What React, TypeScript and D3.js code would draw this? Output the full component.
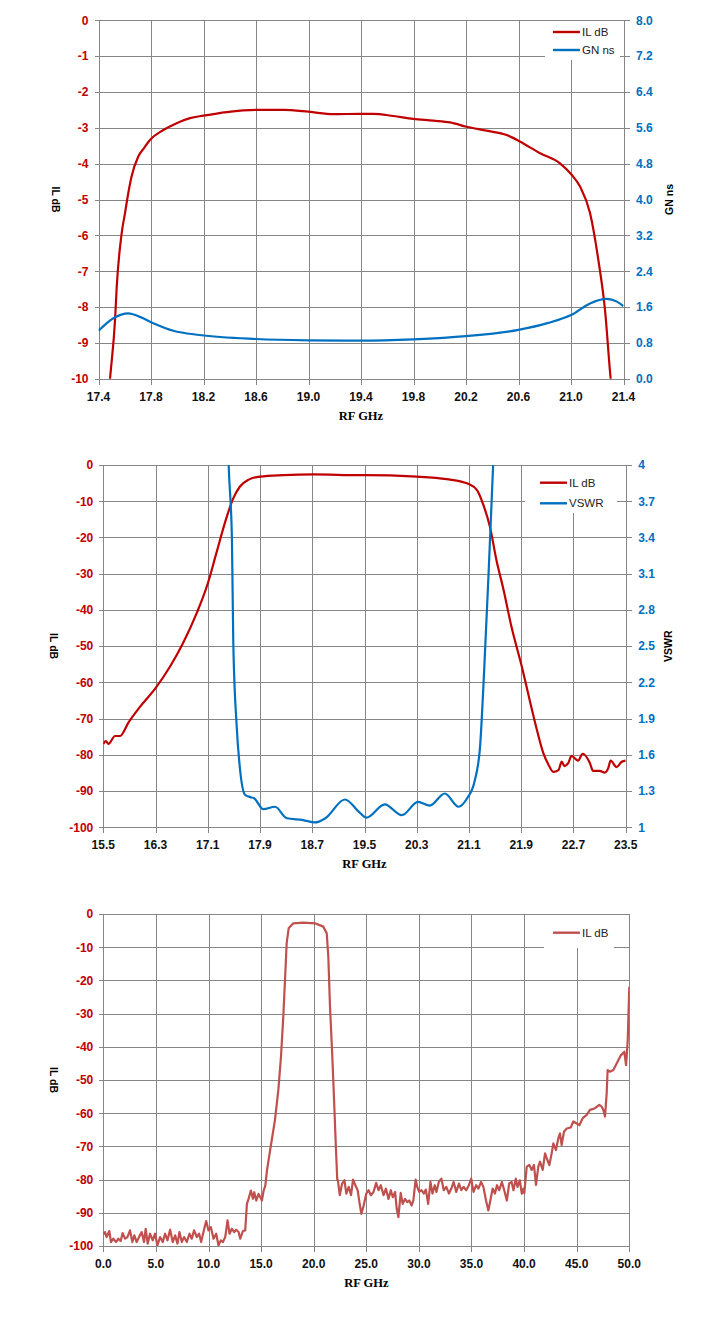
import * as d3 from 'd3';

const IL_RED = '#C00000';
const GN_BLUE = '#0070C0';
const WIDE_RED = '#C0504D';
const GRID = '#868686';

// ---- chart 1: passband detail, IL dB + GN ns ----
const c1IlFreq = [17.47, 17.488, 17.526, 17.539, 17.577, 17.602, 17.627, 17.652, 17.703, 17.75, 17.792, 17.894, 17.983, 18.097, 18.2, 18.377, 18.6, 18.81, 19.0, 19.19, 19.39, 19.494, 19.646, 19.798, 19.95, 20.078, 20.205, 20.357, 20.51, 20.61, 20.764, 20.916, 21.005, 21.069, 21.145, 21.208, 21.259, 21.302, 21.31];
const c1Il = [-10.8, -10.0, -8.36, -7.43, -5.93, -5.38, -4.82, -4.36, -3.8, -3.55, -3.34, -3.06, -2.89, -2.73, -2.66, -2.56, -2.5, -2.5, -2.55, -2.62, -2.61, -2.61, -2.67, -2.75, -2.8, -2.85, -2.97, -3.08, -3.2, -3.38, -3.71, -3.99, -4.31, -4.64, -5.38, -6.68, -8.08, -10.0, -10.3];
const c1GnFreq = [17.4, 17.513, 17.627, 17.716, 17.818, 17.97, 18.17, 18.6, 19.0, 19.39, 19.8, 20.2, 20.6, 20.82, 21.0, 21.145, 21.27, 21.35, 21.4];
const c1Gn = [1.07, 1.35, 1.46, 1.38, 1.24, 1.07, 0.975, 0.886, 0.857, 0.85, 0.88, 0.95, 1.09, 1.24, 1.42, 1.68, 1.78, 1.72, 1.62];
const c1XTicks = [17.4, 17.8, 18.2, 18.6, 19.0, 19.4, 19.8, 20.2, 20.6, 21.0, 21.4];
const c1YTicks = [0, -1, -2, -3, -4, -5, -6, -7, -8, -9, -10];
const c1Y2Ticks = [0, 0.8, 1.6, 2.4, 3.2, 4.0, 4.8, 5.6, 6.4, 7.2, 8.0];

// ---- chart 2: skirts, IL dB + VSWR ----
const c2IlFreq = [15.5, 15.54, 15.577, 15.68, 15.757, 15.885, 16.064, 16.3, 16.52, 16.72, 16.93, 17.1, 17.23, 17.36, 17.49, 17.59, 17.72, 17.9, 18.26, 18.72, 19.43, 19.49, 20.3, 20.76, 21.09, 21.22, 21.32, 21.42, 21.52, 21.63, 21.75, 21.91, 22.03, 22.14, 22.24, 22.32, 22.39, 22.47, 22.52, 22.56, 22.62, 22.67, 22.77, 22.84, 22.95, 23.0, 23.1, 23.18, 23.23, 23.27, 23.36, 23.44, 23.5];
const c2Il = [-77.0, -76.2, -77.0, -74.8, -74.8, -71.1, -66.7, -61.6, -55.7, -49.2, -40.9, -32.7, -24.4, -16.1, -9.2, -6.0, -4.1, -3.2, -2.8, -2.6, -2.8, -2.8, -3.2, -3.9, -5.2, -6.9, -11.0, -17.0, -26.2, -34.5, -44.6, -55.7, -64.9, -73.1, -79.6, -82.8, -84.7, -84.2, -81.9, -83.1, -82.3, -80.3, -81.6, -79.7, -82.2, -84.4, -84.4, -84.9, -83.8, -81.6, -83.4, -81.9, -81.6];
const c2VswrFreq = [17.39, 17.42, 17.47, 17.49, 17.54, 17.59, 17.67, 17.75, 17.81, 17.95, 18.13, 18.31, 18.56, 18.74, 18.9, 19.2, 19.43, 19.53, 19.81, 20.07, 20.32, 20.5, 20.73, 20.94, 21.06, 21.19, 21.27, 21.33, 21.4, 21.47, 21.5];
const c2Vswr = [4.6, 4.0, 3.38, 2.55, 1.86, 1.5, 1.27, 1.25, 1.24, 1.15, 1.17, 1.075, 1.06, 1.04, 1.075, 1.23, 1.12, 1.08, 1.19, 1.1, 1.21, 1.18, 1.28, 1.17, 1.23, 1.39, 1.67, 2.27, 3.1, 4.0, 4.4];
const c2XTicks = [15.5, 16.3, 17.1, 17.9, 18.7, 19.5, 20.3, 21.1, 21.9, 22.7, 23.5];
const c2YTicks = [0, -10, -20, -30, -40, -50, -60, -70, -80, -90, -100];
const c2Y2Ticks = [1, 1.3, 1.6, 1.9, 2.2, 2.5, 2.8, 3.1, 3.4, 3.7, 4];

// ---- chart 3: wideband IL dB ----
const c3Freq = [0.0, 0.16, 0.32, 0.57, 0.73, 0.95, 1.21, 1.43, 1.65, 1.84, 2.06, 2.29, 2.54, 2.76, 2.95, 3.17, 3.43, 3.65, 3.87, 4.03, 4.22, 4.44, 4.7, 4.92, 5.14, 5.4, 5.65, 5.87, 6.1, 6.35, 6.6, 6.83, 7.05, 7.24, 7.46, 7.68, 7.94, 8.19, 8.41, 8.63, 8.89, 9.11, 9.3, 9.52, 9.78, 10.0, 10.22, 10.48, 10.73, 10.95, 11.17, 11.37, 11.59, 11.81, 12.0, 12.22, 12.44, 12.63, 12.86, 13.02, 13.27, 13.49, 13.65, 13.81, 14.03, 14.22, 14.35, 14.54, 14.76, 14.92, 15.08, 15.24, 15.4, 15.56, 15.91, 16.32, 16.64, 16.89, 17.11, 17.3, 17.43, 17.62, 18.06, 19.01, 20.12, 20.91, 21.24, 21.39, 21.55, 21.77, 21.96, 22.12, 22.24, 22.3, 22.48, 22.7, 22.92, 23.1, 23.33, 23.55, 23.74, 23.96, 24.18, 24.37, 24.53, 24.75, 25.0, 25.22, 25.44, 25.69, 25.94, 26.16, 26.38, 26.64, 26.86, 27.11, 27.33, 27.52, 27.74, 27.89, 28.05, 28.27, 28.46, 28.68, 28.9, 29.09, 29.31, 29.47, 29.69, 29.84, 30.03, 30.25, 30.47, 30.66, 30.88, 31.1, 31.29, 31.51, 31.67, 31.89, 32.14, 32.36, 32.61, 32.86, 33.08, 33.3, 33.55, 33.81, 34.03, 34.25, 34.5, 34.75, 34.97, 35.19, 35.44, 35.66, 35.91, 36.13, 36.38, 36.6, 36.79, 37.01, 37.23, 37.42, 37.64, 37.89, 38.11, 38.36, 38.58, 38.81, 38.99, 39.21, 39.37, 39.59, 39.78, 39.94, 40.02, 40.25, 40.5, 40.72, 40.94, 41.13, 41.35, 41.51, 41.77, 41.99, 42.21, 42.4, 42.62, 42.78, 43.03, 43.25, 43.41, 43.57, 43.79, 44.05, 44.43, 44.68, 45.0, 45.25, 45.57, 45.95, 46.26, 46.74, 47.15, 47.37, 47.53, 47.69, 47.85, 47.94, 48.17, 48.48, 48.8, 49.21, 49.53, 49.69, 49.75, 49.85, 50.0];
const c3Il = [-96.5, -95.8, -97.3, -95.5, -98.8, -97.8, -98.8, -97.8, -98.5, -96.1, -97.8, -97.3, -95.3, -98.8, -96.8, -98.8, -97.1, -95.8, -98.8, -94.8, -99.3, -96.3, -98.3, -96.3, -99.8, -97.3, -98.8, -96.3, -98.3, -95.1, -98.8, -96.8, -99.3, -95.8, -98.8, -97.3, -98.8, -96.3, -97.8, -95.3, -97.3, -96.3, -98.8, -95.8, -92.5, -95.3, -94.3, -97.8, -96.3, -99.8, -98.3, -98.8, -97.3, -92.3, -96.3, -94.8, -95.8, -95.1, -95.8, -97.8, -95.5, -95.3, -87.3, -85.8, -83.3, -85.8, -83.8, -86.3, -84.3, -85.3, -86.3, -83.3, -81.8, -77.2, -70.1, -62.0, -53.0, -43.0, -30.9, -17.9, -8.8, -4.3, -2.8, -2.6, -2.8, -3.8, -5.8, -12.9, -27.9, -43.0, -58.0, -71.1, -80.1, -80.2, -84.7, -81.2, -80.2, -84.2, -82.2, -84.7, -80.0, -81.7, -83.2, -87.3, -90.3, -87.8, -84.2, -83.2, -84.7, -83.7, -81.0, -83.2, -81.7, -84.7, -82.7, -85.8, -83.2, -85.3, -83.7, -88.8, -91.3, -84.0, -87.3, -85.8, -86.8, -86.3, -87.8, -86.3, -80.0, -82.2, -83.7, -83.2, -84.2, -83.0, -87.3, -80.7, -84.2, -81.7, -83.7, -80.7, -79.7, -83.2, -82.2, -84.2, -82.7, -80.7, -83.7, -81.2, -83.2, -82.2, -83.2, -81.7, -79.7, -83.7, -81.7, -82.7, -80.7, -82.2, -86.3, -89.3, -86.3, -82.7, -84.2, -81.7, -83.2, -80.7, -83.2, -86.3, -81.2, -80.7, -83.2, -79.7, -82.2, -80.2, -84.2, -82.7, -84.1, -76.1, -75.6, -77.1, -75.6, -81.6, -76.1, -74.6, -77.1, -72.1, -74.1, -75.6, -72.1, -69.1, -71.1, -67.6, -66.1, -69.6, -65.6, -64.6, -64.3, -62.5, -63.1, -63.6, -61.5, -60.5, -59.0, -58.5, -57.5, -58.0, -59.0, -61.0, -54.0, -47.0, -47.5, -47.0, -45.0, -42.5, -41.5, -45.5, -43.0, -38.0, -21.9];
const c3XTicks = [0, 5, 10, 15, 20, 25, 30, 35, 40, 45, 50];
const c3YTicks = [0, -10, -20, -30, -40, -50, -60, -70, -80, -90, -100];

interface Series {
  x: number[];
  y: number[];
  color: string;
  right?: boolean;
  smooth?: boolean;
  label: string;
}

interface ChartProps {
  id: string;
  left: number;
  right: number;
  top: number;
  bottom: number;
  xDomain: [number, number];
  xTicks: number[];
  xFmt: (v: number) => string;
  yDomain: [number, number];
  yTicks: number[];
  y2Domain?: [number, number];
  y2Ticks?: number[];
  y2Fmt?: (v: number) => string;
  y2Title?: string;
  y2TitleX?: number;
  yTitleX: number;
  series: Series[];
  legend: { x: number; y: number; w: number; h: number; sx1: number; sx2: number; rows: number[] };
}

const tickFont = 'Tahoma, "Liberation Sans", Arial, sans-serif';

function Chart(p: ChartProps) {
  const x = d3.scaleLinear().domain(p.xDomain).range([p.left, p.right]);
  const y = d3.scaleLinear().domain(p.yDomain).range([p.bottom, p.top]);
  const y2 = p.y2Domain ? d3.scaleLinear().domain(p.y2Domain).range([p.bottom, p.top]) : null;
  const midY = (p.top + p.bottom) / 2;
  const midX = (p.left + p.right) / 2;
  const snap = (v: number) => Math.round(v) + 0.5;

  return (
    <g>
      <defs>
        <clipPath id={p.id}>
          <rect x={p.left} y={p.top} width={p.right - p.left} height={p.bottom - p.top} />
        </clipPath>
      </defs>
      {/* grid */}
      <g stroke={GRID} strokeWidth={1} shapeRendering="crispEdges">
        {p.xTicks.map((t, i) => (
          <line key={'vx' + i} x1={snap(x(t))} x2={snap(x(t))} y1={snap(p.top)} y2={snap(p.bottom) + 5} />
        ))}
        {p.yTicks.map((t, i) => (
          <line key={'hy' + i} x1={snap(p.left) - 5} x2={snap(p.right) + (y2 ? 5 : 0)} y1={snap(y(t))} y2={snap(y(t))} />
        ))}
      </g>
      {/* series */}
      <g clipPath={`url(#${p.id})`}>
        {p.series.map((s, i) => {
          const ys = s.right && y2 ? y2 : y;
          const line = d3.line<number>()
            .x((_, k) => x(s.x[k]))
            .y(v => ys(v))
            .curve(s.smooth ? d3.curveMonotoneX : d3.curveLinear);
          return <path key={i} d={line(s.y) || ''} fill="none" stroke={s.color} strokeWidth={2.2} strokeLinejoin="round" />;
        })}
      </g>
      {/* legend */}
      <rect x={p.legend.x} y={p.legend.y} width={p.legend.w} height={p.legend.h} fill="#fff" />
      {p.series.map((s, i) => (
        <g key={'lg' + i}>
          <line x1={p.legend.sx1} x2={p.legend.sx2} y1={p.legend.rows[i]} y2={p.legend.rows[i]} stroke={s.color} strokeWidth={2.4} />
          <text x={p.legend.sx2 + 2} y={p.legend.rows[i]} dy="0.36em" fontFamily={tickFont} fontSize={11.5} fill="#222">{s.label}</text>
        </g>
      ))}
      {/* x tick labels */}
      {p.xTicks.map((t, i) => (
        <text key={'xl' + i} x={x(t)} y={p.bottom + 22} textAnchor="middle" fontFamily={tickFont} fontWeight="bold" fontSize={12} fill="#111">
          {p.xFmt(t)}
        </text>
      ))}
      {/* left tick labels */}
      {p.yTicks.map((t, i) => (
        <text key={'yl' + i} x={p.left - 10} y={y(t)} dy="0.36em" textAnchor="end" fontFamily={tickFont} fontWeight="bold" fontSize={12} fill={IL_RED}>
          {String(t)}
        </text>
      ))}
      {/* right tick labels */}
      {y2 && p.y2Ticks && p.y2Ticks.map((t, i) => (
        <text key={'y2l' + i} x={p.right + 12.5} y={y2(t)} dy="0.36em" textAnchor="start" fontFamily={tickFont} fontWeight="bold" fontSize={12} fill={GN_BLUE}>
          {p.y2Fmt ? p.y2Fmt(t) : String(t)}
        </text>
      ))}
      {/* axis titles */}
      <text x={midX} y={p.bottom + 41} textAnchor="middle" fontFamily='"Liberation Serif", "Times New Roman", serif' fontWeight="bold" fontSize={12.5} fill="#000">
        RF GHz
      </text>
      <text transform={`translate(${p.yTitleX},${midY}) rotate(90)`} textAnchor="middle" dy="0.36em" fontFamily={tickFont} fontWeight="bold" fontSize={10.5} fill="#000">
        IL dB
      </text>
      {p.y2Title && (
        <text transform={`translate(${p.y2TitleX},${midY}) rotate(-90)`} textAnchor="middle" dy="0.36em" fontFamily={tickFont} fontWeight="bold" fontSize={10.5} fill="#000">
          {p.y2Title}
        </text>
      )}
    </g>
  );
}

const f1 = (v: number) => v.toFixed(1);

export default function App() {
  return (
    <div style={{ position: 'absolute', left: 0, top: 0, background: '#fff' }}>
      <svg width={718} height={1332} style={{ display: 'block' }}>
        <rect width={718} height={1332} fill="#fff" />
        <Chart
          id="clip1"
          left={98.5} right={623.5} top={20.3} bottom={378.7}
          xDomain={[17.4, 21.4]} xTicks={c1XTicks} xFmt={f1}
          yDomain={[-10, 0]} yTicks={c1YTicks}
          y2Domain={[0, 8]} y2Ticks={c1Y2Ticks} y2Fmt={f1}
          y2Title="GN ns" y2TitleX={669} yTitleX={56}
          series={[
            { x: c1IlFreq, y: c1Il, color: IL_RED, smooth: true, label: 'IL dB' },
            { x: c1GnFreq, y: c1Gn, color: GN_BLUE, right: true, smooth: true, label: 'GN ns' },
          ]}
          legend={{ x: 545, y: 21, w: 75, h: 39, sx1: 553, sx2: 580, rows: [32, 50] }}
        />
        <Chart
          id="clip2"
          left={103.3} right={625.7} top={465} bottom={827.3}
          xDomain={[15.5, 23.5]} xTicks={c2XTicks} xFmt={f1}
          yDomain={[-100, 0]} yTicks={c2YTicks}
          y2Domain={[1, 4]} y2Ticks={c2Y2Ticks}
          y2Title="VSWR" y2TitleX={668.5} yTitleX={54}
          series={[
            { x: c2IlFreq, y: c2Il, color: IL_RED, smooth: true, label: 'IL dB' },
            { x: c2VswrFreq, y: c2Vswr, color: GN_BLUE, right: true, smooth: true, label: 'VSWR' },
          ]}
          legend={{ x: 525, y: 466, w: 92, h: 47, sx1: 540, sx2: 567, rows: [482.7, 503.3] }}
        />
        <Chart
          id="clip3"
          left={103.3} right={629.3} top={914} bottom={1246}
          xDomain={[0, 50]} xTicks={c3XTicks} xFmt={f1}
          yDomain={[-100, 0]} yTicks={c3YTicks}
          yTitleX={54}
          series={[{ x: c3Freq, y: c3Il, color: WIDE_RED, label: 'IL dB' }]}
          legend={{ x: 544, y: 915, w: 70, h: 33, sx1: 553, sx2: 580, rows: [932.7] }}
        />
      </svg>
    </div>
  );
}
